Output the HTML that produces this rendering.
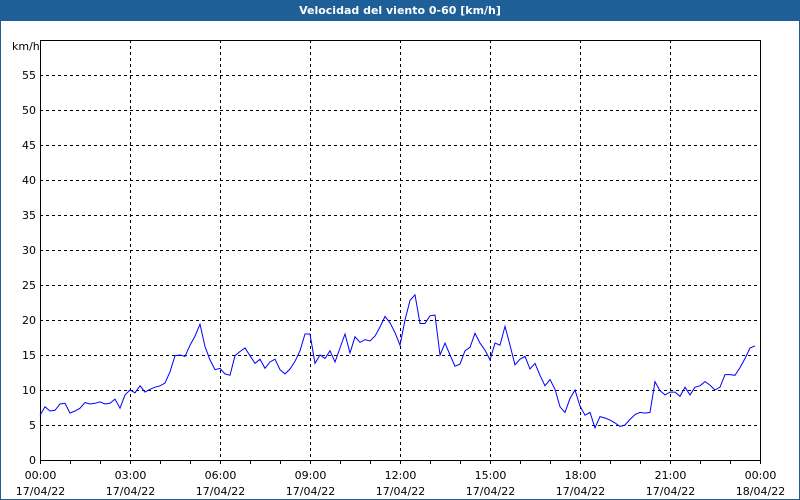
<!DOCTYPE html>
<html><head><meta charset="utf-8"><style>
body{margin:0;width:800px;height:500px;overflow:hidden;background:#fff;font-family:"DejaVu Sans","Liberation Sans",sans-serif}
#frame{position:absolute;left:0;top:0;width:798px;height:498px;border:1px solid #1d5f96;background:#fff}
#title{position:absolute;left:0;top:0;width:800px;height:21px;background:#1d5f96;color:#fff;font:bold 11px "DejaVu Sans","Liberation Sans",sans-serif;text-align:center;line-height:22px}
svg{position:absolute;left:0;top:0}
text{font-family:"DejaVu Sans","Liberation Sans",sans-serif;font-size:11px;fill:#000}
</style></head><body>
<div id="frame"></div>
<div id="title">Velocidad del viento 0-60 [km/h]</div>
<svg id="chart" width="800" height="500"></svg>
<script>
const yTicks=[0,5,10,15,20,25,30,35,40,45,50,55];
const xTickLabels=["00:00","03:00","06:00","09:00","12:00","15:00","18:00","21:00","00:00"];
const xDateLabels=["17/04/22","17/04/22","17/04/22","17/04/22","17/04/22","17/04/22","17/04/22","17/04/22","18/04/22"];
const windSpeed=[6.4,7.6,7.0,7.1,8.0,8.1,6.7,7.0,7.4,8.2,8.0,8.1,8.3,8.0,8.1,8.7,7.4,9.3,10.0,9.6,10.6,9.7,10.1,10.4,10.6,11.0,12.6,14.9,15.0,14.8,16.4,17.7,19.4,16.2,14.3,12.9,13.1,12.3,12.1,14.9,15.5,16.0,14.9,13.8,14.4,13.1,14.0,14.4,12.9,12.3,13.0,14.1,15.6,18.0,18.0,13.8,15.0,14.5,15.6,14.0,16.0,18.0,15.3,17.6,16.8,17.2,17.0,17.7,19.0,20.5,19.6,18.2,16.4,
20.0,22.8,23.6,19.5,19.5,20.6,20.7,15.0,16.7,15.0,13.4,13.7,15.6,16.1,18.1,16.7,15.7,14.3,16.7,16.4,19.1,16.4,13.6,14.4,14.8,13.0,13.8,12.1,10.6,11.5,10.1,7.6,6.8,8.8,10.0,7.7,6.4,6.8,4.6,6.2,6.0,5.7,5.3,4.8,5.0,5.8,6.5,6.8,6.7,6.8,11.2,9.9,9.3,9.7,9.7,9.1,10.4,9.3,10.4,10.6,11.2,10.7,10.0,10.4,12.2,12.2,12.1,13.2,14.5,16.0,16.3];
const NS="http://www.w3.org/2000/svg";
const svg=document.getElementById('chart');
const L=40,R=760,T=40,B=460,YMAX=60,HOURS=24,STEP_MIN=10;
function yS(v){return B-(v/YMAX)*(B-T);}
function xS(h){return L+(h/HOURS)*(R-L);}
function mk(tag,attrs){const e=document.createElementNS(NS,tag);for(const k in attrs)e.setAttribute(k,attrs[k]);svg.appendChild(e);return e;}
yTicks.forEach((v,i)=>{
  if(v>0){const g=mk('line',{x1:L,x2:R,y1:yS(v)+0.5,y2:yS(v)+0.5,stroke:'#000','stroke-dasharray':'3,3','stroke-width':1});
  
  }
  const t=mk('text',{x:L-4,y:yS(v)+4,'text-anchor':'end'});t.textContent=v;
  
  
});
xTickLabels.forEach((lab,i)=>{
  const x=xS(i*3)+0.5;
  if(i>0&&i<8){const g=mk('line',{x1:x,x2:x,y1:T,y2:B,stroke:'#000','stroke-dasharray':'3,3','stroke-width':1});
  
  }
  const t=mk('text',{x:x,y:479,'text-anchor':'middle'});t.textContent=lab;
  
  
  const d=mk('text',{x:x,y:495,'text-anchor':'middle'});d.textContent=xDateLabels[i];
  
  
});
for(let h=0;h<=HOURS;h++){const x=xS(h)+0.5;const tk=mk('line',{x1:x,x2:x,y1:B,y2:B+4,stroke:'#000'});

}
const box=mk('rect',{x:L+0.5,y:T+0.5,width:R-L,height:B-T,fill:'none',stroke:'#000','stroke-width':1});


const u=mk('text',{x:12,y:50});u.textContent='km/h';


const pts=windSpeed.map((v,i)=>xS(i*STEP_MIN/60).toFixed(1)+','+yS(v).toFixed(1)).join(' ');
const line=mk('polyline',{points:pts,fill:'none',stroke:'#0000ff','stroke-width':1});


</script>
</body></html>
